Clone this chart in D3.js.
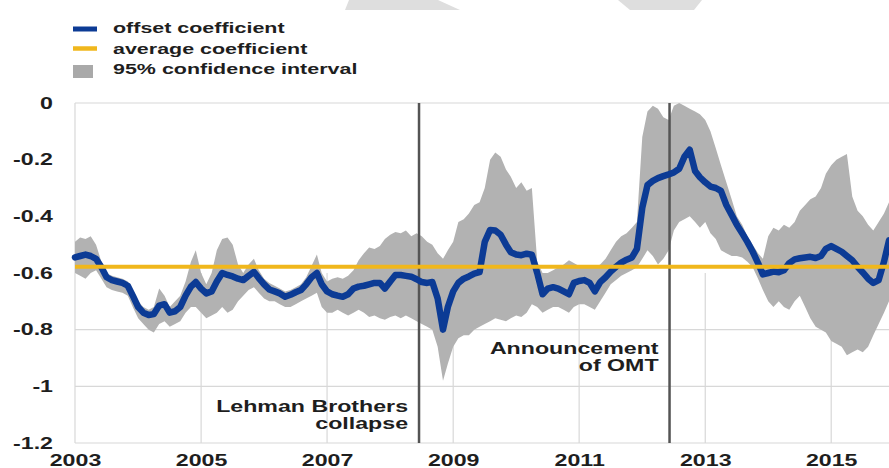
<!DOCTYPE html>
<html>
<head>
<meta charset="utf-8">
<script src="https://cdn.jsdelivr.net/npm/d3@7"></script>
<style>
  html, body { margin: 0; padding: 0; background: #fff; }
  svg { display: block; }
  text { font-family: "Liberation Sans", Arial, sans-serif; fill: #1e1e1e; }
</style>
</head>
<body>
<svg id="chart" width="889" height="468"></svg>
<script>
// Monthly observations, April 2003 to March 2016
const firstMonth = new Date(2003, 3, 1);

const offsetCoef = [
  -0.545,-0.54,-0.535,-0.54,-0.55,-0.58,-0.615,-0.625,-0.63,-0.635,-0.645,-0.68,
  -0.72,-0.74,-0.748,-0.745,-0.715,-0.71,-0.74,-0.735,-0.72,-0.68,-0.648,-0.632,
  -0.655,-0.672,-0.665,-0.63,-0.60,-0.607,-0.612,-0.62,-0.625,-0.61,-0.596,-0.618,
  -0.64,-0.658,-0.665,-0.672,-0.684,-0.677,-0.668,-0.66,-0.64,-0.615,-0.60,-0.64,
  -0.665,-0.675,-0.68,-0.684,-0.675,-0.655,-0.648,-0.645,-0.64,-0.635,-0.635,-0.655,
  -0.63,-0.607,-0.607,-0.61,-0.613,-0.622,-0.632,-0.635,-0.632,-0.69,-0.80,-0.72,
  -0.665,-0.635,-0.62,-0.612,-0.602,-0.597,-0.49,-0.448,-0.45,-0.465,-0.50,-0.527,
  -0.535,-0.537,-0.532,-0.535,-0.60,-0.675,-0.655,-0.65,-0.655,-0.665,-0.675,-0.635,
  -0.628,-0.625,-0.635,-0.665,-0.632,-0.615,-0.595,-0.578,-0.563,-0.553,-0.545,-0.515,
  -0.37,-0.29,-0.275,-0.265,-0.258,-0.252,-0.245,-0.232,-0.19,-0.165,-0.24,-0.262,
  -0.28,-0.295,-0.30,-0.31,-0.36,-0.395,-0.43,-0.46,-0.49,-0.525,-0.565,-0.605,
  -0.60,-0.595,-0.597,-0.59,-0.565,-0.552,-0.548,-0.545,-0.543,-0.547,-0.54,-0.515,
  -0.505,-0.515,-0.525,-0.54,-0.555,-0.578,-0.598,-0.62,-0.635,-0.625,-0.56,-0.485
];

const ciUpper = [
  -0.49,-0.475,-0.48,-0.47,-0.50,-0.56,-0.60,-0.61,-0.615,-0.62,-0.63,-0.665,
  -0.70,-0.72,-0.73,-0.72,-0.655,-0.68,-0.72,-0.70,-0.68,-0.63,-0.56,-0.52,
  -0.60,-0.64,-0.60,-0.52,-0.48,-0.475,-0.50,-0.57,-0.60,-0.57,-0.55,-0.59,
  -0.62,-0.635,-0.645,-0.655,-0.665,-0.66,-0.65,-0.64,-0.615,-0.575,-0.535,-0.60,
  -0.63,-0.62,-0.615,-0.62,-0.61,-0.59,-0.555,-0.53,-0.51,-0.515,-0.505,-0.48,
  -0.465,-0.455,-0.46,-0.45,-0.47,-0.46,-0.47,-0.49,-0.50,-0.53,-0.55,-0.52,
  -0.49,-0.42,-0.41,-0.39,-0.36,-0.35,-0.30,-0.20,-0.175,-0.19,-0.235,-0.26,
  -0.30,-0.28,-0.31,-0.30,-0.56,-0.60,-0.60,-0.59,-0.58,-0.57,-0.555,-0.565,
  -0.575,-0.575,-0.58,-0.58,-0.57,-0.55,-0.52,-0.49,-0.47,-0.46,-0.44,-0.42,
  -0.12,-0.03,-0.01,-0.02,-0.05,-0.06,-0.01,0.0,-0.01,-0.02,-0.03,-0.04,
  -0.06,-0.10,-0.16,-0.22,-0.28,-0.34,-0.40,-0.43,-0.47,-0.50,-0.53,-0.55,
  -0.47,-0.44,-0.45,-0.43,-0.44,-0.42,-0.38,-0.36,-0.34,-0.33,-0.30,-0.25,
  -0.22,-0.20,-0.19,-0.18,-0.33,-0.38,-0.40,-0.43,-0.45,-0.42,-0.39,-0.35
];

const ciLower = [
  -0.60,-0.61,-0.62,-0.60,-0.59,-0.62,-0.65,-0.66,-0.665,-0.67,-0.68,-0.72,
  -0.76,-0.78,-0.80,-0.81,-0.78,-0.77,-0.79,-0.78,-0.77,-0.74,-0.72,-0.72,
  -0.74,-0.76,-0.75,-0.74,-0.72,-0.74,-0.73,-0.70,-0.68,-0.66,-0.65,-0.67,
  -0.69,-0.70,-0.70,-0.71,-0.72,-0.72,-0.71,-0.70,-0.69,-0.68,-0.67,-0.72,
  -0.74,-0.74,-0.73,-0.74,-0.75,-0.74,-0.73,-0.74,-0.755,-0.75,-0.76,-0.765,
  -0.755,-0.75,-0.76,-0.75,-0.76,-0.77,-0.78,-0.79,-0.80,-0.86,-0.98,-0.92,
  -0.86,-0.83,-0.82,-0.82,-0.80,-0.79,-0.78,-0.77,-0.76,-0.765,-0.77,-0.76,
  -0.75,-0.755,-0.74,-0.71,-0.72,-0.74,-0.73,-0.72,-0.72,-0.73,-0.74,-0.72,
  -0.71,-0.71,-0.72,-0.73,-0.70,-0.67,-0.64,-0.625,-0.61,-0.60,-0.59,-0.58,
  -0.55,-0.52,-0.54,-0.57,-0.55,-0.52,-0.45,-0.42,-0.41,-0.40,-0.42,-0.44,
  -0.42,-0.46,-0.48,-0.52,-0.53,-0.54,-0.54,-0.545,-0.56,-0.58,-0.62,-0.66,
  -0.70,-0.72,-0.70,-0.72,-0.73,-0.70,-0.68,-0.72,-0.76,-0.79,-0.80,-0.81,
  -0.84,-0.85,-0.86,-0.89,-0.88,-0.87,-0.88,-0.86,-0.82,-0.78,-0.74,-0.70
];

const averageCoef = -0.578;

const yTickValues = [0, -0.2, -0.4, -0.6, -0.8, -1, -1.2];
const yGridValues = [-0.8, -1, -1.2];
const xTickYears = [2003, 2005, 2007, 2009, 2011, 2013, 2015];

const eventDates = [new Date(2008, 8, 15), new Date(2012, 8, 6)];
const eventLabels = [["Lehman Brothers", "collapse"], ["Announcement", "of OMT"]];
const eventLabelBaselines = [412, 354];

const legendLabels = ["offset coefficient", "average coefficient", "95% confidence interval"];

// ---- colours and layout ----
const BLUE = "#0c3b95", GOLD = "#f0b71c", CI_GREY = "#b2b2b2", GRID = "#d8d8d8";
const STRETCH = 1.45; // horizontal stretch applied to all lettering
const plot = { left: 75, right: 889, top: 103, bottom: 443 };

const svg = d3.select("#chart");

const months = offsetCoef.map((_, i) => d3.timeMonth.offset(firstMonth, i));
const x = d3.scaleTime()
  .domain([months[0], months[months.length - 1]])
  .range([plot.left, plot.right]);
const y = d3.scaleLinear().domain([-1.2, 0]).range([plot.bottom, plot.top]);

const rows = months.map((d, i) => ({ date: d, v: offsetCoef[i], hi: ciUpper[i], lo: ciLower[i] }));

// faint decorative shapes along the top edge
svg.append("g").attr("fill", "#dedede")
  .selectAll("polygon")
  .data([[[345, 10], [349, 0], [438, 0], [460, 10]], [[618, 0], [702, 0], [694, 10], [630, 10]]])
  .join("polygon")
  .attr("points", d => d.map(p => p.join(",")).join(" "));

// ---- grid ----
const grid = svg.append("g").attr("stroke", GRID).attr("stroke-width", 1.2);
grid.append("line")
  .attr("x1", plot.left).attr("x2", plot.right)
  .attr("y1", y(0)).attr("y2", y(0));
grid.append("line")
  .attr("x1", plot.left).attr("x2", plot.left)
  .attr("y1", plot.top).attr("y2", plot.bottom);
grid.selectAll("line.h").data(yGridValues).join("line").attr("class", "h")
  .attr("x1", plot.left).attr("x2", plot.right)
  .attr("y1", d => y(d)).attr("y2", d => y(d));
grid.selectAll("line.v").data(xTickYears.slice(1)).join("line").attr("class", "v")
  .attr("x1", d => x(new Date(d, 3, 1))).attr("x2", d => x(new Date(d, 3, 1)))
  .attr("y1", y(-0.6)).attr("y2", plot.bottom);

// ---- confidence band ----
svg.append("path")
  .datum(rows)
  .attr("fill", CI_GREY)
  .attr("d", d3.area().x(d => x(d.date)).y0(d => y(d.lo)).y1(d => y(d.hi)));

// ---- event markers ----
svg.append("g").selectAll("line").data(eventDates).join("line")
  .attr("x1", d => x(d)).attr("x2", d => x(d))
  .attr("y1", plot.top).attr("y2", plot.bottom)
  .attr("stroke", "#545454").attr("stroke-width", 2.5);

// ---- offset coefficient ----
svg.append("path")
  .datum(rows)
  .attr("fill", "none")
  .attr("stroke", BLUE)
  .attr("stroke-width", 6.5)
  .attr("stroke-linejoin", "round")
  .attr("stroke-linecap", "round")
  .attr("d", d3.line().x(d => x(d.date)).y(d => y(d.v)));

// ---- average coefficient (drawn over the series) ----
svg.append("line")
  .attr("x1", plot.left).attr("x2", plot.right)
  .attr("y1", y(averageCoef)).attr("y2", y(averageCoef))
  .attr("stroke", GOLD).attr("stroke-width", 4);

// ---- axes ----
const yAxis = svg.append("g")
  .attr("transform", `translate(${plot.left},0)`)
  .call(d3.axisLeft(y).tickValues(yTickValues).tickSize(0).tickFormat(d => String(d)));
yAxis.select(".domain").remove();
yAxis.selectAll("text")
  .attr("x", -22 / STRETCH)
  .attr("transform", `scale(${STRETCH},1)`)
  .style("font-size", "16px").style("font-weight", "bold")
  .style("font-family", "'Liberation Sans', Arial, sans-serif").attr("fill", "#1e1e1e");

const xAxis = svg.append("g")
  .attr("transform", `translate(0,${plot.bottom})`)
  .call(d3.axisBottom(x).tickValues(xTickYears.map(yr => new Date(yr, 3, 1)))
    .tickSize(0).tickFormat(d3.timeFormat("%Y")));
xAxis.select(".domain").remove();
xAxis.selectAll("text")
  .attr("y", 23).attr("dy", 0)
  .attr("transform", `scale(${STRETCH},1)`)
  .style("font-size", "16px").style("font-weight", "bold")
  .style("font-family", "'Liberation Sans', Arial, sans-serif").attr("fill", "#1e1e1e");

// ---- event labels ----
eventDates.forEach((d, i) => {
  const g = svg.append("g")
    .attr("transform", `translate(${x(d) - 11},${eventLabelBaselines[i]}) scale(${STRETCH},1)`);
  g.selectAll("text").data(eventLabels[i]).join("text")
    .attr("text-anchor", "end")
    .attr("y", (t, j) => j * 17)
    .style("font-size", "16px").style("font-weight", "bold")
    .text(t => t);
});

// ---- legend ----
const legend = svg.append("g");
const legendBaselines = [33, 53.5, 74];
legend.append("line").attr("x1", 73).attr("x2", 97).attr("y1", 29).attr("y2", 29)
  .attr("stroke", BLUE).attr("stroke-width", 5);
legend.append("line").attr("x1", 73).attr("x2", 97).attr("y1", 48.5).attr("y2", 48.5)
  .attr("stroke", GOLD).attr("stroke-width", 4.5);
legend.append("rect").attr("x", 73).attr("y", 65).attr("width", 20).attr("height", 13)
  .attr("fill", "#a9a9a9");
legend.selectAll("g.item").data(legendLabels).join("g").attr("class", "item")
  .attr("transform", (t, i) => `translate(113,${legendBaselines[i]}) scale(${STRETCH},1)`)
  .append("text")
  .style("font-size", "14.8px").style("font-weight", "bold")
  .attr("fill", "#2a2a2a")
  .text(t => t);
</script>
</body>
</html>
